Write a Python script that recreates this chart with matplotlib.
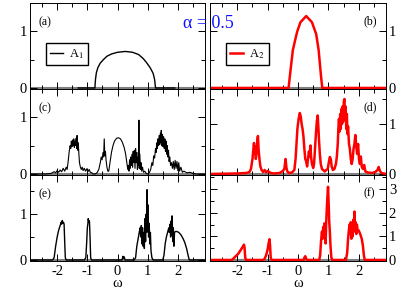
import matplotlib
matplotlib.use("Agg")
import matplotlib.pyplot as plt
from matplotlib.ticker import MultipleLocator

plt.rcParams["font.family"] = ["Liberation Serif", "DejaVu Serif"]
plt.rcParams["mathtext.fontset"] = "stix"
plt.rcParams["axes.unicode_minus"] = False

# (a) A1, alpha = 0.5
wa = [-1.3, -0.75, -0.73, -0.7, -0.65, -0.57, -0.45, -0.35, -0.2, 0.0, 0.26, 0.5,
      0.7, 0.85, 0.96, 1.08, 1.18, 1.23, 1.26, 1.9]
A1a = [0.0, 0.0, 0.15, 0.27, 0.36, 0.44, 0.51, 0.56, 0.60, 0.63, 0.645, 0.63,
       0.59, 0.52, 0.45, 0.36, 0.26, 0.15, 0.0, 0.0]

# (b) A2
wb = [-2.9, -0.31, -0.27, -0.17, -0.03, 0.08, 0.27, 0.46, 0.6, 0.68, 0.76, 0.8, 2.9]
A2b = [0.0, 0.0, 0.2, 0.67, 0.99, 1.16, 1.27, 1.16, 0.95, 0.67, 0.2, 0.0, 0.0]

# (c) A1
wc = [-2.9, -2.4, -2.2, -2.1, -2.05, -2.0, -1.95, -1.9, -1.85, -1.8, -1.75, -1.7,
      -1.67, -1.64, -1.6, -1.57, -1.55, -1.53, -1.51, -1.49, -1.47, -1.45, -1.43,
      -1.41, -1.39, -1.37, -1.35, -1.34, -1.32, -1.3, -1.28, -1.26, -1.23, -1.2,
      -1.17, -1.14, -1.1, -1.06, -1.02, -0.98, -0.94, -0.9, -0.85, -0.8, -0.74,
      -0.68, -0.62, -0.57, -0.54, -0.51, -0.48, -0.46, -0.44, -0.42, -0.4, -0.38,
      -0.35, -0.32, -0.29, -0.25, -0.2, -0.15, -0.1, -0.03, 0.03, 0.1, 0.16, 0.22,
      0.27, 0.31, 0.34, 0.36, 0.38, 0.4, 0.42, 0.44, 0.46, 0.48, 0.5, 0.52, 0.54,
      0.56, 0.58, 0.6, 0.62, 0.64, 0.66, 0.68, 0.7, 0.71, 0.72, 0.74, 0.76, 0.78,
      0.8, 0.83, 0.86, 0.9, 0.95, 1.0, 1.05, 1.1, 1.14, 1.17, 1.2, 1.23, 1.26,
      1.28, 1.3, 1.32, 1.34, 1.36, 1.38, 1.4, 1.42, 1.44, 1.45, 1.47, 1.49, 1.51,
      1.53, 1.55, 1.57, 1.59, 1.61, 1.63, 1.65, 1.67, 1.69, 1.71, 1.73, 1.76,
      1.79, 1.82, 1.85, 1.88, 1.91, 1.94, 1.97, 2.0, 2.03, 2.06, 2.1, 2.15, 2.2,
      2.3, 2.4, 2.5, 2.6, 2.9]
A1c = [0.0, 0.0, 0.01, 0.04, 0.02, 0.06, 0.03, 0.07, 0.04, 0.1, 0.05, 0.12,
       0.08, 0.2, 0.4, 0.5, 0.45, 0.58, 0.48, 0.6, 0.5, 0.62, 0.47,
       0.58, 0.5, 0.63, 0.45, 0.68, 0.42, 0.55, 0.35, 0.2, 0.12, 0.08,
       0.12, 0.06, 0.1, 0.05, 0.09, 0.04, 0.08, 0.03, 0.02, 0.0, 0.0,
       0.02, 0.08, 0.2, 0.3, 0.25, 0.38, 0.3, 0.62, 0.32, 0.4, 0.25,
       0.12, 0.05, 0.05, 0.2, 0.38, 0.5, 0.58, 0.63, 0.64, 0.62, 0.56, 0.47,
       0.35, 0.2, 0.08, 0.15, 0.05, 0.25, 0.1, 0.3, 0.15, 0.35, 0.12, 0.4, 0.2,
       0.42, 0.1, 0.45, 0.2, 0.38, 0.08, 0.3, 0.15, 0.95, 0.1, 0.35, 0.08, 0.2,
       0.05, 0.12, 0.03, 0.05, 0.01, 0.0, 0.02, 0.08, 0.2, 0.15, 0.32, 0.28, 0.45,
       0.38, 0.55, 0.45, 0.62, 0.5, 0.68, 0.52, 0.72, 0.55, 0.77, 0.5, 0.7, 0.48,
       0.66, 0.45, 0.62, 0.4, 0.58, 0.35, 0.5, 0.3, 0.42, 0.22, 0.3, 0.15,
       0.2, 0.1, 0.22, 0.08, 0.24, 0.1, 0.22, 0.06, 0.2, 0.05, 0.12, 0.03, 0.05,
       0.02, 0.03, 0.01, 0.0, 0.0]

# (d) A2
wd = [-2.9, -2.0, -1.7, -1.6, -1.55, -1.5, -1.47, -1.45, -1.43, -1.41, -1.39,
      -1.36, -1.34, -1.32, -1.3, -1.27, -1.24, -1.2, -1.15, -1.1, -1.05, -1.0,
      -0.9, -0.8, -0.6, -0.5, -0.45, -0.41, -0.38, -0.35, -0.3, -0.2, -0.12,
      -0.08, -0.05, -0.02, 0.02, 0.06, 0.09, 0.12, 0.15, 0.18, 0.21, 0.24, 0.27,
      0.3, 0.33, 0.36, 0.38, 0.41, 0.43, 0.46, 0.5, 0.53, 0.56, 0.59, 0.62, 0.65,
      0.67, 0.69, 0.72, 0.75, 0.79, 0.83, 0.88, 0.93, 0.98, 1.02, 1.05, 1.08, 1.11,
      1.15, 1.2, 1.25, 1.28, 1.31, 1.33, 1.35, 1.37, 1.39, 1.41, 1.43, 1.45, 1.47,
      1.49, 1.51, 1.53, 1.55, 1.57, 1.59, 1.61, 1.63, 1.65, 1.68, 1.71, 1.74,
      1.77, 1.8, 1.83, 1.86, 1.89, 1.92, 1.95, 1.98, 2.01, 2.04, 2.07, 2.1, 2.14,
      2.18, 2.22, 2.3, 2.45, 2.55, 2.62, 2.66, 2.7, 2.75, 2.9]
A2d = [0.0, 0.01, 0.02, 0.04, 0.1, 0.3, 0.5, 0.62, 0.4, 0.55, 0.3,
       0.45, 0.68, 0.76, 0.5, 0.3, 0.15, 0.08, 0.04, 0.08, 0.03, 0.06,
       0.02, 0.01, 0.02, 0.06, 0.1, 0.3, 0.12, 0.05, 0.02, 0.03, 0.08,
       0.3, 0.6, 0.9, 1.1, 1.22, 1.15, 1.0, 0.9, 0.75, 0.5, 0.3, 0.25,
       0.15, 0.3, 0.45, 0.35, 0.57, 0.35, 0.2, 0.12, 0.2, 0.5, 0.8, 1.05, 1.17,
       0.95, 0.7, 0.4, 0.2, 0.1, 0.08, 0.05, 0.08, 0.1, 0.25, 0.34, 0.3, 0.15,
       0.08, 0.1, 0.2, 0.35, 0.6, 0.9, 1.1, 0.85, 1.2, 0.9, 1.3, 1.0, 1.35,
       1.05, 1.45, 1.5, 1.1, 1.35, 0.9, 1.2, 0.8, 0.95, 0.6, 0.5, 0.3,
       0.2, 0.3, 0.5, 0.6, 0.78, 0.55, 0.4, 0.6, 0.3, 0.2, 0.35, 0.15, 0.1,
       0.18, 0.05, 0.03, 0.02, 0.04, 0.08, 0.14, 0.06, 0.02, 0.0]

# (e) A1
we = [-2.9, -2.15, -2.1, -2.05, -2.0, -1.95, -1.9, -1.87, -1.85, -1.83, -1.81,
      -1.79, -1.77, -1.75, -1.73, -1.7, -1.1, -1.05, -1.02, -1.0, -0.98, -0.97,
      -0.95, -0.93, -0.91, -0.89, -0.86, 0.15, 0.18, 0.2, 0.22, 0.25, 0.55, 0.6,
      0.64, 0.68, 0.72, 0.75, 0.77, 0.79, 0.81, 0.83, 0.85, 0.87, 0.89, 0.91,
      0.93, 0.95, 0.97, 0.98, 0.99, 1.01, 1.03, 1.05, 1.07, 1.09, 1.11, 1.14,
      1.18, 1.5, 1.54, 1.58, 1.62, 1.66, 1.7, 1.72, 1.74, 1.76, 1.78, 1.8, 1.81,
      1.83, 1.85, 1.87, 1.89, 1.92, 1.97, 2.03, 2.1, 2.17, 2.23, 2.29, 2.34,
      2.38, 2.9]
A1e = [0.0, 0.0, 0.05, 0.3, 0.5, 0.65, 0.75, 0.82, 0.78, 0.86, 0.8,
       0.82, 0.78, 0.4, 0.05, 0.0, 0.0, 0.05, 0.4, 0.7, 0.8, 0.9,
       0.82, 0.85, 0.5, 0.05, 0.0, 0.0, 0.08, 0.04, 0.07, 0.0, 0.0, 0.05,
       0.3, 0.45, 0.6, 0.7, 0.5, 0.75, 0.35, 0.7, 0.3, 0.6, 0.25, 0.9,
       0.4, 1.0, 0.6, 1.53, 0.8, 1.2, 0.5, 0.8, 0.35, 0.6, 0.2, 0.05,
       0.0, 0.0, 0.1, 0.35, 0.5, 0.6, 0.7, 0.6, 0.78, 0.5, 0.85, 0.55, 0.96,
       0.4, 0.7, 0.3, 0.6, 0.62, 0.62, 0.6, 0.55, 0.47, 0.38, 0.25, 0.1,
       0.0, 0.0]

# (f) A2
wf = [-2.9, -2.2, -2.15, -2.1, -2.0, -1.95, -1.9, -1.85, -1.8, -1.78, -1.76,
      -1.74, -1.71, -1.15, -1.1, -1.05, -1.0, -0.97, -0.94, -0.92, -0.9, -0.87,
      0.18, 0.21, 0.24, 0.27, 0.3, 0.7, 0.73, 0.76, 0.79, 0.81, 0.83, 0.85,
      0.87, 0.89, 0.91, 0.93, 0.95, 0.97, 0.99, 1.01, 1.03, 1.05, 1.07, 1.1,
      1.13, 1.58, 1.62, 1.65, 1.68, 1.7, 1.72, 1.74, 1.76, 1.78, 1.8, 1.82,
      1.84, 1.86, 1.88, 1.9, 1.92, 1.94, 1.96, 2.0, 2.05, 2.1, 2.14, 2.17, 2.2,
      2.9]
A2f = [0.0, 0.0, 0.03, 0.1, 0.22, 0.3, 0.4, 0.5, 0.6, 0.65, 0.5,
       0.1, 0.0, 0.0, 0.05, 0.2, 0.45, 0.7, 0.88, 0.6, 0.1, 0.0,
       0.0, 0.1, 0.16, 0.05, 0.0, 0.0, 0.2, 0.8, 1.2, 0.9, 1.4, 1.0,
       1.55, 1.2, 0.7, 1.6, 2.2, 2.7, 3.1, 2.4, 1.6, 1.2, 0.6, 0.1,
       0.0, 0.0, 0.3, 0.9, 1.3, 1.5, 1.1, 1.6, 0.9, 1.5, 1.0, 1.7,
       1.2, 2.05, 1.3, 1.6, 1.1, 1.5, 1.3, 1.25, 1.1, 0.9, 0.6, 0.2, 0.0,
       0.0]

panels = [
    (wa, A1a, "k", 1.0, 1.5, "(a)", "A$_1$"),
    (wb, A2b, "red", 1.8, 1.5, "(b)", "A$_2$"),
    (wc, A1c, "k", 0.8, 1.5, "(c)", None),
    (wd, A2d, "red", 1.8, 1.7, "(d)", None),
    (we, A1e, "k", 1.0, 1.85, "(e)", None),
    (wf, A2f, "red", 1.8, 3.6, "(f)", None),
]

fig = plt.figure(figsize=(4.15, 2.94), dpi=100)
W, H = 415.0, 294.0
lefts = [30, 210]
widths = [175, 176]
tops = [3, 89, 175]
ph = 86

for i, (w, a, col, lw, ytop, tag, lab) in enumerate(panels):
    r, c = i // 2, i % 2
    ax = fig.add_axes([lefts[c] / W, 1 - (tops[r] + ph) / H, widths[c] / W, ph / H])
    ax.axhline(0, color="#808080", lw=1.5, zorder=1)
    ax.plot(w, a, color=col, lw=lw, label=lab, zorder=2)
    ax.set_xlim(-2.9, 2.9)
    ax.set_ylim(-0.012 * ytop, ytop)
    ax.xaxis.set_major_locator(MultipleLocator(1))
    ax.xaxis.set_minor_locator(MultipleLocator(0.5))
    ax.yaxis.set_major_locator(MultipleLocator(1))
    ax.yaxis.set_minor_locator(MultipleLocator(0.5))
    ax.tick_params(which="both", direction="in", top=True, right=True,
                   labelsize=10.5, width=0.7)
    ax.tick_params(which="major", length=5, pad=2)
    ax.tick_params(which="minor", length=3)
    ax.tick_params(axis="x", pad=3)
    if c == 1:
        ax.tick_params(labelleft=False, labelright=True)
    if r < 2:
        ax.tick_params(labelbottom=False)
    else:
        ax.set_xlabel("ω", fontsize=10.5, labelpad=-1)
    for sp in ax.spines.values():
        sp.set_linewidth(0.7)
    if c == 0:
        ax.text(0.05, 0.78, tag, transform=ax.transAxes, fontsize=8.5, va="center")
    else:
        ax.text(0.87, 0.79, tag, transform=ax.transAxes, fontsize=8.5, va="center")
    if lab:
        ax.legend(loc="upper left", bbox_to_anchor=(0.09, 0.54), fontsize=9,
                  handlelength=1.0, handletextpad=0.5, borderpad=0.35,
                  borderaxespad=0, fancybox=False, edgecolor="k",
                  framealpha=1)

fig.text(208 / W, 1 - 24 / H, "α = 0.5", color="#1010ff", fontsize=13,
         ha="center", va="center")

fig.savefig("out.png", dpi=100)
